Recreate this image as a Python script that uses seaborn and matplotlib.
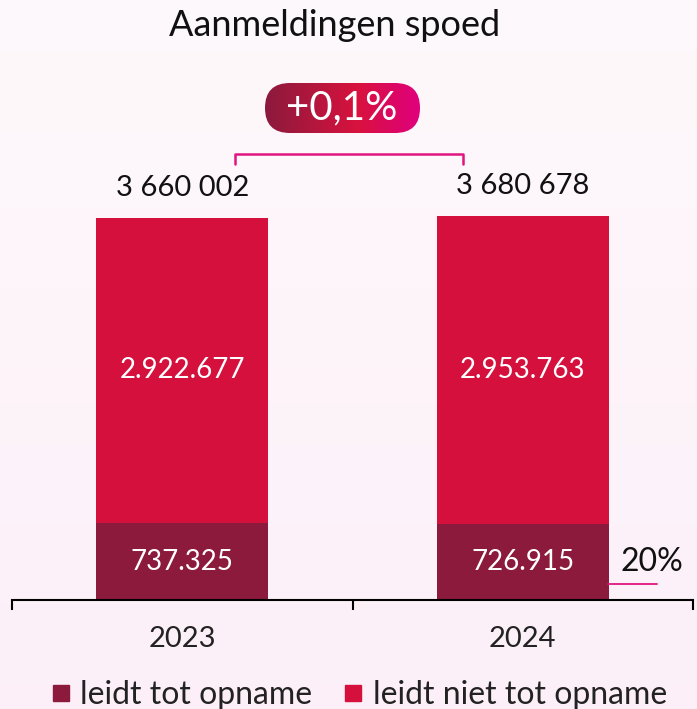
import numpy as np
import pandas as pd
import matplotlib.pyplot as plt
import seaborn as sns
from matplotlib.patches import FancyBboxPatch
from matplotlib.lines import Line2D

years = ["2023", "2024"]
leidt_tot = [737325, 726915]
leidt_niet_tot = [2922677, 2953763]
title = "Aanmeldingen spoed"
change_label = "+0,1%"
legend_labels = ["leidt tot opname", "leidt niet tot opname"]

dark = "#8b1a3c"
red = "#d5103d"
pink = "#e0157f"

df = pd.DataFrame({"year": years, "tot": leidt_tot, "niet": leidt_niet_tot})
df["total"] = df["tot"] + df["niet"]

sns.set_style("white")
plt.rcParams["font.family"] = ["Lato", "DejaVu Sans"]

W, H = 697, 709
fig = plt.figure(figsize=(W / 100, H / 100), dpi=100)

# background gradient
bg = fig.add_axes([0, 0, 1, 1], zorder=-10)
grad = np.linspace(0, 1, 256).reshape(-1, 1)
top = np.array([0.995, 0.975, 0.985])
bot = np.array([0.99, 0.94, 0.975])
img = top + (bot - top) * grad[..., None]
bg.imshow(img, aspect="auto", extent=[0, 1, 0, 1], origin="upper")
bg.axis("off")

ax = fig.add_axes([12 / W, 109 / H, 681 / W, 522 / H])
ax.set_facecolor("none")
sns.barplot(data=df, x="year", y="total", color=red, width=0.505, ax=ax,
            saturation=1, linewidth=0)
sns.barplot(data=df, x="year", y="tot", color=dark, width=0.505, ax=ax,
            saturation=1, linewidth=0)
ax.set_xlim(-0.5, 1.5)
ax.set_ylim(0, 5.0e6)

bars_total = ax.containers[0]
bars_tot = ax.containers[1]
ax.bar_label(bars_total, labels=[f"{v:,}".replace(",", " ") for v in df["total"]],
             padding=12, fontsize=21, color="#111111")
for rect, v, t in zip(bars_total, df["niet"], df["tot"]):
    cx = rect.get_x() + rect.get_width() / 2
    ax.text(cx, t + v / 2, f"{v:,}".replace(",", "."), ha="center", va="center",
            color="white", fontsize=20)
ax.bar_label(bars_tot, labels=[f"{v:,}".replace(",", ".") for v in df["tot"]],
             label_type="center", fontsize=20, color="white")

ax.set_xlabel("")
ax.set_ylabel("")
ax.set_yticks([])
for s in ["left", "right", "top"]:
    ax.spines[s].set_visible(False)
ax.spines["bottom"].set_linewidth(1.5)
ax.spines["bottom"].set_color("black")
ax.set_xticks([0, 1])
ax.set_xticklabels(years, fontsize=21, color="#222222")
ax.set_xticks([-0.5, 0.5, 1.5], minor=True)
ax.tick_params(axis="x", which="major", bottom=True, length=0, pad=19)
ax.tick_params(axis="x", which="minor", bottom=True, length=7, width=1.5,
               direction="out", color="black")

# overlay in pixel coordinates for annotations
ov = fig.add_axes([0, 0, 1, 1], zorder=5)
ov.set_xlim(0, W)
ov.set_ylim(H, 0)
ov.axis("off")

fig.text(335 / W, 1 - 25 / H, title, ha="center", va="center", fontsize=26, color="#111111")

# bracket
ov.plot([235, 235, 463, 463], [164, 154, 154, 164], color=pink, lw=1.8)

# gradient pill
pill_shape = FancyBboxPatch((265, 83), 155, 50, boxstyle="round,pad=0,rounding_size=25",
                            facecolor="none", edgecolor="none")
ov.add_patch(pill_shape)
gx = np.linspace(0, 1, 256).reshape(1, -1)
c0 = np.array([0x8b, 0x1a, 0x3c]) / 255
c1 = np.array([0xd8, 0x12, 0x3e]) / 255
c2 = np.array([0xe0, 0x00, 0x7d]) / 255
gimg = np.where(gx[..., None] < 0.6, c0 + (c1 - c0) * (gx[..., None] / 0.6),
                c1 + (c2 - c1) * ((gx[..., None] - 0.6) / 0.4))
im = ov.imshow(gimg, extent=[265, 420, 133, 83], aspect="auto", zorder=6)
im.set_clip_path(pill_shape)
ov.set_xlim(0, W)
ov.set_ylim(H, 0)
ov.text(342, 108, change_label, ha="center", va="center", color="white", fontsize=29,
        zorder=7)

# share annotation
share = round(100 * leidt_tot[1] / (leidt_tot[1] + leidt_niet_tot[1]))
ov.text(652, 562, f"{share}%", ha="center", va="center", fontsize=23, color="#111111")
ov.plot([608, 657], [584, 584], color=pink, lw=1.3)

handles = [Line2D([], [], marker="s", linestyle="", markersize=11, color=dark),
           Line2D([], [], marker="s", linestyle="", markersize=11, color=red)]
fig.legend(handles, legend_labels, loc="center", bbox_to_anchor=(359 / W, 1 - 695 / H), ncol=2,
           frameon=False, fontsize=23, handlelength=0.6, handletextpad=0.3,
           columnspacing=1.0, labelcolor="#222222")

fig.savefig("out.png", dpi=100)
